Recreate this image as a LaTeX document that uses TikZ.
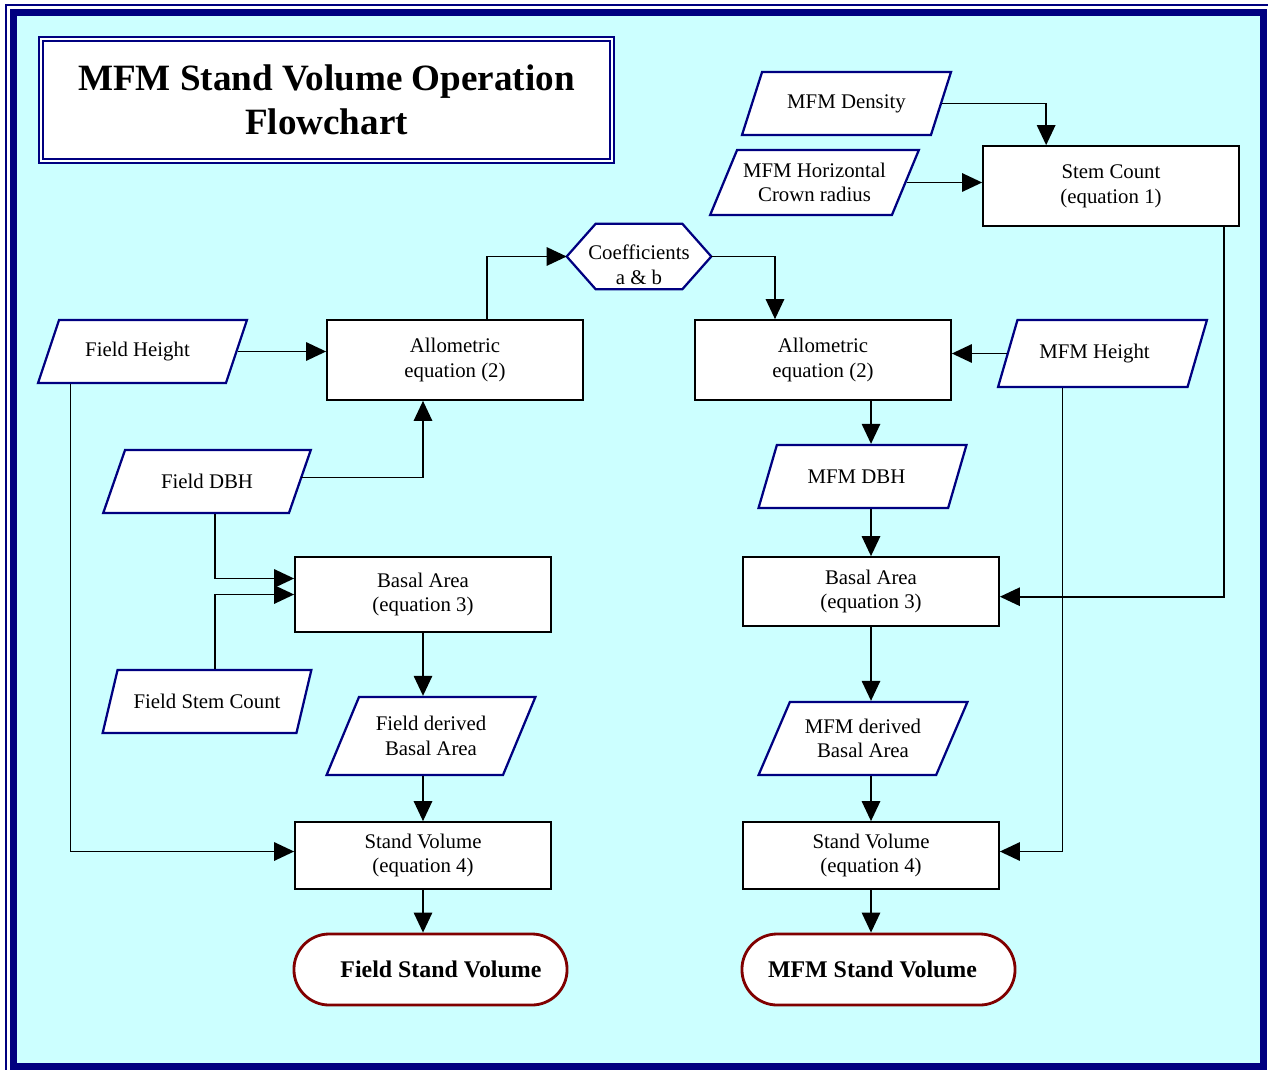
\documentclass[tikz,border=0pt]{standalone}
\usepackage{fontspec}
\setmainfont{Liberation Serif}
\usetikzlibrary{arrows.meta,shapes.geometric}
\definecolor{navyline}{RGB}{0,0,128}
\definecolor{skybg}{RGB}{204,255,255}
\definecolor{termred}{RGB}{128,0,0}

\begin{document}
\begin{tikzpicture}[x=0.025cm,y=-0.025cm,>={Triangle[length=0.5cm,width=0.46cm]},font=\fontsize{14.8}{17.6}\selectfont]
  \tikzstyle{box}=[draw,line width=1.2pt,fill=white,align=center,minimum width=6.4cm]
  \tikzstyle{data}=[trapezium,trapezium left angle=63,trapezium right angle=117,trapezium stretches=true,draw=navyline,line width=1.6pt,fill=white,align=center,inner xsep=0pt,minimum width=5.225cm,minimum height=1.575cm]
  \tikzstyle{term}=[draw=termred,line width=2pt,fill=white,rounded corners=0.88cm,minimum width=6.825cm,minimum height=1.775cm,font=\fontsize{17}{20}\selectfont\bfseries]
  \tikzstyle{flow}=[line width=1.2pt,->]
  \useasboundingbox (0,0) rectangle (1268,1070);
  \draw[navyline,line width=1pt] (6,1070) -- (6,5) -- (1268,5);
  \draw[navyline,line width=0.175cm,fill=skybg] (13.5,12.5) rectangle (1263.5,1066);

  \node[draw=navyline,line width=0.05cm,double=white,double distance=0.06cm,fill=white,align=center,minimum width=14.275cm,minimum height=3.05cm,font=\fontsize{26.4}{31}\selectfont\bfseries] (title) at (326.5,100) {MFM Stand Volume Operation\\Flowchart};

  \node[data] (density) at (846.5,103.5) {MFM Density};
  \node[data,minimum height=1.625cm] (crown) at (814.5,182.5) {MFM Horizontal\\Crown radius};
  \node[box,minimum height=2cm] (stem) at (1111,186) {Stem Count\\(equation 1)};
  \node[inner sep=0pt,minimum width=3.6cm,minimum height=1.625cm] (coeff) at (639,256.5) {};
  \draw[navyline,line width=1.6pt,fill=white] (coeff.west) -- ([xshift=0.725cm]coeff.north west) -- ([xshift=-0.725cm]coeff.north east) -- (coeff.east) -- ([xshift=-0.725cm]coeff.south east) -- ([xshift=0.725cm]coeff.south west) -- cycle;
  \node[align=center] (coefftext) at ([yshift=-0.2cm]coeff.center) {Coefficients\\a \& b};
  \node[data] (fheight) at (142.5,351.5) {Field Height\hspace*{0.25cm}};
  \node[box,minimum height=2cm] (allomL) at (455,360) {Allometric\\equation (2)};
  \node[box,minimum height=2cm] (allomR) at (823,360) {Allometric\\equation (2)};
  \node[data,minimum height=1.675cm] (mheight) at (1102.5,353.5) {MFM Height\hspace*{0.4cm}};
  \node[data] (fdbh) at (207,481.5) {Field DBH};
  \node[data] (mdbh) at (862.5,476.5) {MFM DBH\hspace*{0.3cm}};
  \node[box,minimum height=1.875cm] (basalL) at (423,594.5) {Basal Area\\(equation 3)};
  \node[box,minimum height=1.725cm] (basalR) at (871,591.5) {Basal Area\\(equation 3)};
  \node[data] (fstem) at (207,701.5) {Field Stem Count};
  \node[data,minimum height=1.95cm] (fderived) at (431,736) {Field derived\\Basal Area};
  \node[data,minimum height=1.825cm] (mderived) at (863,738.5) {MFM derived\\Basal Area};
  \node[box,minimum height=1.675cm] (standL) at (423,855.5) {Stand Volume\\(equation 4)};
  \node[box,minimum height=1.675cm] (standR) at (871,855.5) {Stand Volume\\(equation 4)};
  \node[term] (termL) at (430.5,969.5) {\hspace*{0.52cm}Field Stand Volume};
  \node[term] (termR) at (878.5,969.5) {MFM Stand Volume\hspace*{0.3cm}};

  \draw[flow] (density.east) -| ([xshift=1.6cm]stem.north west);
  \draw[flow] (crown.east) -- (crown.east -| stem.west);
  \draw[flow] ([xshift=-0.4cm]stem.south east) |- ([yshift=-0.13cm]basalR.east);
  \draw[flow] ([xshift=0.8cm]allomL.north) |- (coeff.west);
  \draw[flow] (coeff.east) -| ([xshift=-1.2cm]allomR.north);
  \draw[flow] (fheight.east) -- (fheight.east -| allomL.west);
  \draw[flow] (mheight.west) -- (mheight.west -| allomR.east);
  \draw[flow] ([yshift=0.1cm]fdbh.east) -| ([xshift=-0.8cm]allomL.south);
  \draw[flow] ([xshift=1.2cm]allomR.south) -- ([xshift=1.2cm]allomR.south |- mdbh.north);
  \draw[flow] ([xshift=0.2cm]fdbh.south) |- ([yshift=0.4cm]basalL.west);
  \draw[flow] ([xshift=0.2cm]fstem.north) |- (basalL.west);
  \draw[flow] (basalL.south) -- (basalL.south |- fderived.north);
  \draw[flow] (standL.north |- fderived.south) -- (standL.north);
  \draw[flow] (standL.south) -- (standL.south |- termL.north);
  \draw[flow] ([xshift=-1.8cm]fheight.south) |- ([yshift=0.1cm]standL.west);
  \draw[flow] (mdbh.south -| basalR.north) -- (basalR.north);
  \draw[flow] (basalR.south) -- (basalR.south |- mderived.north);
  \draw[flow] (standR.north |- mderived.south) -- (standR.north);
  \draw[flow] (standR.south) -- (standR.south |- termR.north);
  \draw[flow] ([xshift=-1cm]mheight.south) |- ([yshift=0.1cm]standR.east);
\end{tikzpicture}
\end{document}
